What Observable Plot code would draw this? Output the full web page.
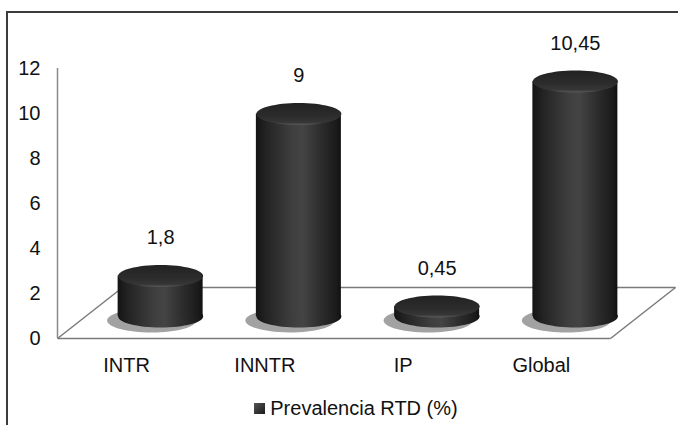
<!DOCTYPE html>
<html>
<head>
<meta charset="utf-8">
<script src="https://cdn.jsdelivr.net/npm/d3@7"></script>
<script src="https://cdn.jsdelivr.net/npm/@observablehq/plot@0.6"></script>
<style>
  html, body { margin: 0; padding: 0; background: #fff; overflow: hidden; }
  #page { position: relative; width: 678px; height: 425px; font-family: "Liberation Sans", Arial, sans-serif; }
  #frame { position: absolute; left: 6px; top: 11px; width: 720px; height: 460px; border: 2px solid #3c3c3c; box-sizing: border-box; pointer-events: none; }
  #chart { position: absolute; left: 0; top: 0; }
  #legend { position: absolute; left: 0; width: 678px; top: 396px; line-height: 24px; text-align: center; font-size: 20px; color: #111; padding-left: 34px; box-sizing: border-box; }
  #legend .sw { display: inline-block; width: 11px; height: 11px; margin-right: 5px; vertical-align: 1px; background: linear-gradient(135deg, #555, #1a1a1a); }
  g[aria-label="shadow"] { filter: url(#blur); }
</style>
</head>
<body>
<svg width="0" height="0" style="position:absolute">
  <defs>
    <linearGradient id="body" x1="0" x2="1" y1="0" y2="0">
      <stop offset="0%" stop-color="#141414"/>
      <stop offset="12%" stop-color="#232323"/>
      <stop offset="42%" stop-color="#3e3e3e"/>
      <stop offset="55%" stop-color="#444444"/>
      <stop offset="75%" stop-color="#2e2e2e"/>
      <stop offset="95%" stop-color="#1a1a1a"/>
      <stop offset="100%" stop-color="#101010"/>
    </linearGradient>
    <linearGradient id="top" x1="0" x2="0" y1="0" y2="1">
      <stop offset="0%" stop-color="#222"/>
      <stop offset="60%" stop-color="#2c2c2c"/>
      <stop offset="88%" stop-color="#363636"/>
      <stop offset="100%" stop-color="#5a5a5a"/>
    </linearGradient>
    <filter id="blur" x="-50%" y="-50%" width="200%" height="200%">
      <feGaussianBlur stdDeviation="4"/>
    </filter>
  </defs>
</svg>
<div id="page">
  <div id="chart"></div>
  <div id="legend"><span class="sw"></span>Prevalencia RTD (%)</div>
  <div id="frame"></div>
</div>
<script>
// ---- data ----
const categories = ["INTR", "INNTR", "IP", "Global"];
const values = [1.8, 9, 0.45, 10.45];
const yTicks = [0, 2, 4, 6, 8, 10, 12];
const seriesName = "Prevalencia RTD (%)";

// ---- layout ----
const W = 678, H = 390;
const mL = 57, mR = 68, mT = 68, mB = 52;
const pxX = (W - mL - mR) / categories.length;   // px per category unit
const pxY = (H - mT - mB) / 12;                  // px per value unit
const cylDx = 34, cylDy = -22;                   // mid-depth offset of cylinders
const rx = 42.5, ry = 11;                        // cap ellipse radii (px)
const halfW = rx / pxX;                          // half cylinder width in x units
const depthX = 65 / pxX, depthY = 51 / pxY;      // floor depth in data units

function ellipse(ax, ay) {
  const k = 0.5523;
  return {
    draw(ctx) {
      ctx.moveTo(ax, 0);
      ctx.bezierCurveTo(ax, ay * k, ax * k, ay, 0, ay);
      ctx.bezierCurveTo(-ax * k, ay, -ax, ay * k, -ax, 0);
      ctx.bezierCurveTo(-ax, -ay * k, -ax * k, -ay, 0, -ay);
      ctx.bezierCurveTo(ax * k, -ay, ax, -ay * k, ax, 0);
      ctx.closePath();
    }
  };
}

const data = categories.map((c, i) => ({cat: c, i, v: values[i], label: String(values[i]).replace(".", ",")}));

const x0 = -0.5, x1 = categories.length - 0.5;
const floor = [
  {x1: x0, y1: 0, x2: x1, y2: 0},
  {x1: x0 + depthX, y1: depthY, x2: x1 + depthX, y2: depthY},
  {x1: x0, y1: 0, x2: x0 + depthX, y2: depthY},
  {x1: x1, y1: 0, x2: x1 + depthX, y2: depthY}
];

const chart = Plot.plot({
  width: W, height: H,
  marginLeft: mL, marginRight: mR, marginTop: mT, marginBottom: mB,
  style: {fontFamily: "Liberation Sans, Arial, sans-serif", fontSize: "20px", color: "#111", background: "transparent", overflow: "visible"},
  x: {domain: [x0, x1], ticks: d3.range(categories.length), tickFormat: i => categories[i], tickSize: 0, tickPadding: 19, label: null},
  y: {domain: [0, 12], ticks: yTicks, tickSize: 0, tickPadding: 17, label: null},
  marks: [
    Plot.ruleX([x0], {y1: 0, y2: 12, stroke: "#8a8a8a", strokeWidth: 1.5}),
    Plot.link(floor, {x1: "x1", y1: "y1", x2: "x2", y2: "y2", stroke: "#7a7a7a", strokeWidth: 1.5}),
    Plot.dot(data, {x: "i", y: () => 0, r: 1, symbol: ellipse(rx + 2, ry + 1), fill: "#555", fillOpacity: 0.55, stroke: "none", dx: cylDx - 9, dy: cylDy + 4, ariaLabel: "shadow"}),
    Plot.dot(data, {x: "i", y: () => 0, r: 1, symbol: ellipse(rx, ry), fill: "url(#body)", stroke: "none", dx: cylDx, dy: cylDy}),
    Plot.rect(data, {x1: d => d.i - halfW, x2: d => d.i + halfW, y1: () => 0, y2: "v", fill: "url(#body)", dx: cylDx, dy: cylDy}),
    Plot.dot(data, {x: "i", y: "v", r: 1, symbol: ellipse(rx, ry), fill: "url(#top)", stroke: "none", dx: cylDx, dy: cylDy}),
    Plot.text(data, {x: "i", y: "v", text: "label", dx: cylDx, dy: cylDy - 38, fontSize: 20, fill: "#111"})
  ]
});
document.getElementById("chart").appendChild(chart);
</script>
</body>
</html>
